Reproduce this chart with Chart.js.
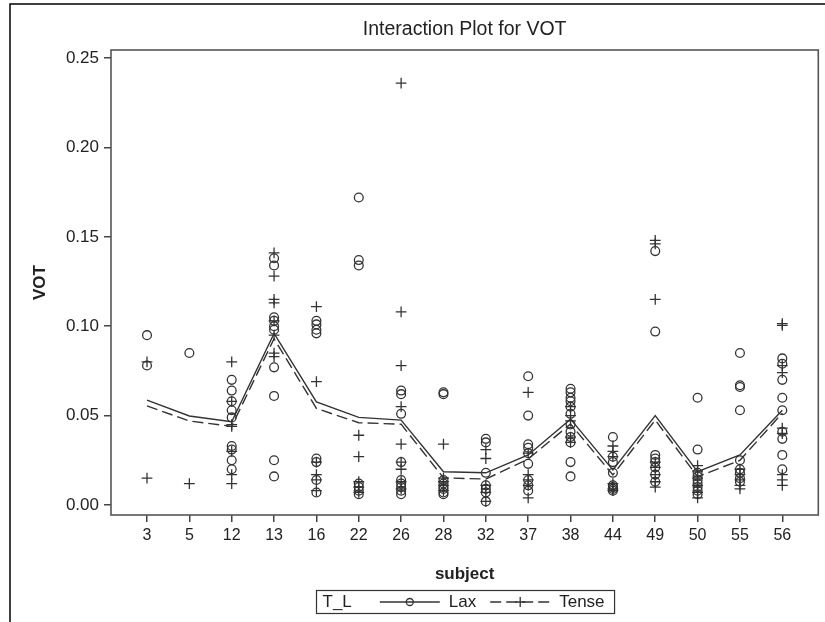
<!DOCTYPE html>
<html>
<head>
<meta charset="utf-8">
<title>Interaction Plot for VOT</title>
<script src="https://cdn.jsdelivr.net/npm/chart.js@4.4.1/dist/chart.umd.min.js"></script>
<style>
    html, body { margin: 0; padding: 0; background: #fff; }
    #wrap { width: 825px; height: 622px; }
</style>
</head>
<body>
<div id="wrap"><canvas id="vot" width="825" height="622"></canvas></div>
<script>
// subjects on the x axis
const subjects = ['3', '5', '12', '13', '16', '22', '26', '28', '32', '37', '38', '44', '49', '50', '55', '56'];

// mean lines
const laxMeans = [0.0587, 0.0498, 0.0466, 0.096, 0.0577, 0.049, 0.0475, 0.0186, 0.018, 0.028, 0.048, 0.0196, 0.050, 0.0186, 0.028, 0.053];
const tenseMeans = [0.0554, 0.047, 0.044, 0.093, 0.054, 0.046, 0.0452, 0.0152, 0.0145, 0.0257, 0.0453, 0.0168, 0.0475, 0.0158, 0.025, 0.0514];

// single observations, one list per subject
const laxObs = [
    [0.095, 0.078],
    [0.085],
    [0.070, 0.064, 0.058, 0.053, 0.049, 0.033, 0.031, 0.025, 0.020],
    [0.138, 0.134, 0.105, 0.103, 0.100, 0.098, 0.077, 0.061, 0.025, 0.016],
    [0.103, 0.101, 0.098, 0.096, 0.026, 0.024, 0.014, 0.007],
    [0.172, 0.137, 0.134, 0.012, 0.010, 0.008, 0.006],
    [0.064, 0.062, 0.051, 0.024, 0.014, 0.012, 0.010, 0.008, 0.006],
    [0.063, 0.062, 0.014, 0.012, 0.010, 0.009, 0.007, 0.006],
    [0.037, 0.035, 0.018, 0.011, 0.009, 0.007, 0.002],
    [0.072, 0.050, 0.034, 0.032, 0.029, 0.023, 0.014, 0.011, 0.008],
    [0.065, 0.063, 0.060, 0.058, 0.055, 0.051, 0.045, 0.041, 0.038, 0.035, 0.024, 0.016],
    [0.038, 0.027, 0.024, 0.018, 0.011, 0.010, 0.009, 0.008],
    [0.142, 0.097, 0.028, 0.026, 0.024, 0.021, 0.017, 0.013],
    [0.060, 0.031, 0.018, 0.016, 0.014, 0.012, 0.010, 0.008, 0.006],
    [0.085, 0.067, 0.066, 0.053, 0.025, 0.020, 0.018, 0.015, 0.013],
    [0.082, 0.079, 0.070, 0.060, 0.053, 0.041, 0.037, 0.028, 0.020]
];
const tenseObs = [
    [0.080, 0.015],
    [0.012],
    [0.080, 0.058, 0.045, 0.044, 0.030, 0.017, 0.012],
    [0.141, 0.128, 0.115, 0.113, 0.103, 0.095, 0.085, 0.083],
    [0.111, 0.069, 0.024, 0.017, 0.014, 0.008],
    [0.039, 0.027, 0.013, 0.010, 0.007],
    [0.236, 0.108, 0.078, 0.055, 0.034, 0.024, 0.020, 0.013, 0.009],
    [0.034, 0.015, 0.013, 0.011, 0.008],
    [0.031, 0.026, 0.011, 0.007, 0.002],
    [0.063, 0.029, 0.017, 0.014, 0.011, 0.004],
    [0.055, 0.050, 0.047, 0.038, 0.035],
    [0.033, 0.030, 0.027, 0.012, 0.009, 0.008],
    [0.148, 0.146, 0.115, 0.024, 0.021, 0.017, 0.013, 0.010],
    [0.022, 0.019, 0.015, 0.011, 0.007, 0.004],
    [0.020, 0.017, 0.014, 0.011, 0.009],
    [0.1015, 0.1005, 0.078, 0.074, 0.043, 0.040, 0.017, 0.014, 0.011]
];

const yTicks = [0, 0.05, 0.10, 0.15, 0.20, 0.25];
const chartTitle = 'Interaction Plot for VOT';

const FONT = "'Liberation Sans', Arial, sans-serif";
const INK = '#222';

function toPoints(lists) {
    return lists.flatMap((vals, i) => vals.map(v => ({ x: i, y: v })));
}
function meanPoints(vals) {
    return vals.map((v, i) => ({ x: i, y: v }));
}

// title over the plot area, frame, outer page border and the SAS-style legend
const sasDecor = {
    id: 'sasDecor',
    afterDraw(chart) {
        const ctx = chart.ctx;
        const a = chart.chartArea;
        const mid = (a.left + a.right) / 2;
        ctx.save();

        // outer border (only top and left are visible)
        ctx.strokeStyle = '#000';
        ctx.lineWidth = 1.5;
        ctx.beginPath();
        ctx.moveTo(10, chart.height);
        ctx.lineTo(10, 4);
        ctx.lineTo(chart.width, 4);
        ctx.stroke();

        // title, centred on the plot area
        ctx.fillStyle = INK;
        ctx.font = '19.5px ' + FONT;
        ctx.textAlign = 'center';
        ctx.textBaseline = 'middle';
        ctx.fillText(chartTitle, mid, 30);

        // plot frame
        ctx.strokeStyle = '#555';
        ctx.lineWidth = 1.6;
        ctx.strokeRect(a.left, a.top, a.right - a.left, a.bottom - a.top);

        // legend
        ctx.font = '17px ' + FONT;
        ctx.textAlign = 'left';
        const items = chart.data.datasets.filter(d => d.inLegend);
        const title = 'T_L';
        const sample = 60, gap = 9, itemGap = 14, padL = 6, padR = 10, afterTitle = 28;
        let total = padL + ctx.measureText(title).width + afterTitle;
        items.forEach(d => { total += sample + gap + ctx.measureText(d.label).width + itemGap; });
        total += padR - itemGap;
        const boxH = 23;
        const boxY = 590;
        const x = Math.round(mid - total / 2) + 0.5;
        const cy = boxY + boxH / 2 + 0.5;

        ctx.strokeStyle = '#333';
        ctx.lineWidth = 1.2;
        ctx.strokeRect(x, boxY + 0.5, total, boxH);

        let cx = x + padL;
        ctx.fillText(title, cx, cy);
        cx += ctx.measureText(title).width + afterTitle;

        items.forEach(d => {
            ctx.strokeStyle = '#333';
            ctx.lineWidth = 1.3;
            ctx.setLineDash(d.borderDash || []);
            ctx.beginPath();
            ctx.moveTo(cx, cy);
            ctx.lineTo(cx + sample, cy);
            ctx.stroke();
            ctx.setLineDash([]);
            const mx = cx + sample / 2;
            ctx.beginPath();
            if (d.legendMarker === 'circle') {
                ctx.arc(mx, cy, 3.5, 0, Math.PI * 2);
            } else {
                ctx.moveTo(mx - 5, cy); ctx.lineTo(mx + 5, cy);
                ctx.moveTo(mx, cy - 5); ctx.lineTo(mx, cy + 5);
            }
            ctx.stroke();
            cx += sample + gap;
            ctx.fillText(d.label, cx, cy);
            cx += ctx.measureText(d.label).width + itemGap;
        });

        ctx.restore();
    }
};

const ctx = document.getElementById('vot').getContext('2d');
const chart = new Chart(ctx, {
    type: 'scatter',
    data: {
        datasets: [
            {
                label: 'Lax obs',
                data: toPoints(laxObs),
                pointStyle: 'circle',
                pointRadius: 4.4,
                pointBorderWidth: 1.3,
                pointBorderColor: '#333',
                pointBackgroundColor: 'rgba(0,0,0,0)',
                order: 2
            },
            {
                label: 'Tense obs',
                data: toPoints(tenseObs),
                pointStyle: 'cross',
                pointRadius: 5.4,
                pointBorderWidth: 1.3,
                pointBorderColor: '#333',
                order: 2
            },
            {
                label: 'Lax',
                inLegend: true,
                legendMarker: 'circle',
                data: meanPoints(laxMeans),
                showLine: true,
                borderColor: '#333',
                borderWidth: 1.4,
                pointRadius: 0,
                fill: false,
                order: 1
            },
            {
                label: 'Tense',
                inLegend: true,
                legendMarker: 'cross',
                data: meanPoints(tenseMeans),
                showLine: true,
                borderColor: '#333',
                borderWidth: 1.4,
                borderDash: [11, 5],
                pointRadius: 0,
                fill: false,
                order: 1
            }
        ]
    },
    options: {
        responsive: false,
        animation: false,
        devicePixelRatio: 1,
        layout: { padding: { left: 0, right: 2, top: 50, bottom: 37 } },
        plugins: {
            legend: { display: false },
            tooltip: { enabled: false },
            title: { display: false }
        },
        scales: {
            x: {
                type: 'linear',
                min: -0.85,
                max: 15.85,
                afterBuildTicks: scale => { scale.ticks = subjects.map((s, i) => ({ value: i })); },
                afterFit: scale => { scale.height = 70; },
                ticks: {
                    autoSkip: false,
                    maxRotation: 0,
                    padding: 4,
                    color: INK,
                    font: { family: FONT, size: 16 },
                    callback: v => subjects[v]
                },
                grid: { drawOnChartArea: false, drawTicks: true, tickLength: 7, color: '#444', lineWidth: 1.5 },
                border: { display: false },
                title: {
                    display: true,
                    text: 'subject',
                    color: INK,
                    font: { family: FONT, size: 17, weight: 'bold' },
                    padding: { top: 7, bottom: 0 }
                }
            },
            y: {
                type: 'linear',
                min: -0.0056,
                max: 0.2545,
                afterBuildTicks: scale => { scale.ticks = yTicks.map(v => ({ value: v })); },
                afterFit: scale => { scale.width = 111; },
                ticks: {
                    padding: 5,
                    color: INK,
                    font: { family: FONT, size: 17 },
                    callback: v => v.toFixed(2)
                },
                grid: { drawOnChartArea: false, drawTicks: true, tickLength: 7, color: '#444', lineWidth: 1.5 },
                border: { display: false },
                title: {
                    display: true,
                    text: 'VOT',
                    color: INK,
                    font: { family: FONT, size: 17, weight: 'bold' },
                    padding: { top: 30, bottom: 0 }
                }
            }
        }
    },
    plugins: [sasDecor]
});
</script>
</body>
</html>
